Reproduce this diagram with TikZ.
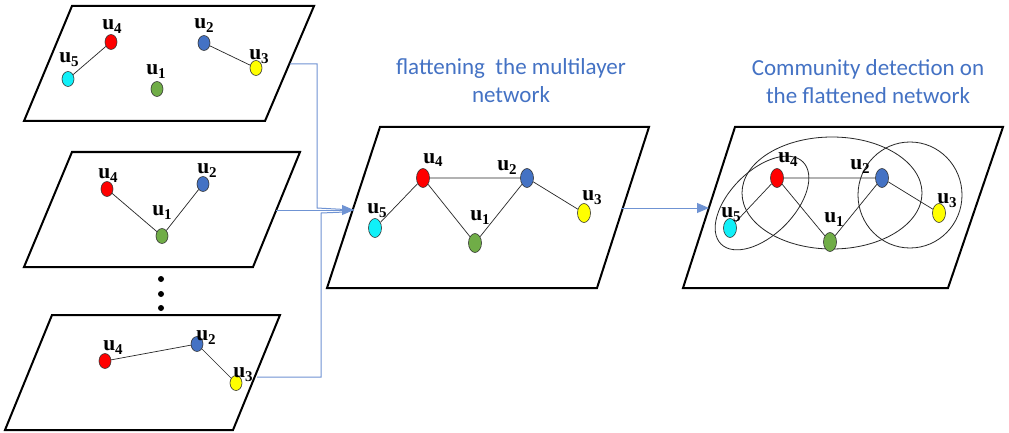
\documentclass[tikz,border=0pt]{standalone}
\usepackage{fontspec}
\setmainfont{Liberation Serif}
\newfontfamily\titlefont{Carlito}
\usetikzlibrary{shapes.geometric,arrows.meta,calc}
\definecolor{titleblue}{HTML}{4472C4}
\definecolor{connblue}{HTML}{6F93D3}
\definecolor{nred}{HTML}{FF0000}
\definecolor{ngreen}{HTML}{70AD47}
\definecolor{nblue}{HTML}{4472C4}
\definecolor{ncyan}{HTML}{10F0F8}
\definecolor{nyellow}{HTML}{FFFF00}
\newcommand\ulab[1]{\textbf{u}\raisebox{-4pt}{\fontsize{15}{15}\selectfont\textbf{#1}}}
\begin{document}
\begin{tikzpicture}[x=1pt,y=-1pt,
 plane/.style={draw=black,line width=2pt,fill=white,line join=miter},
 vtx/.style={ellipse,draw=black!80,line width=0.6pt,minimum width=12pt,minimum height=15pt,inner sep=0pt},
 bigvtx/.style={vtx,minimum width=13pt,minimum height=19pt},
 lab/.style={anchor=base,inner sep=0pt,font=\fontsize{21.5}{21.5}\selectfont},
 link/.style={draw=black!85,line width=0.7pt},
 conn/.style={draw=connblue,line width=1pt},
 arr/.style={-{Triangle[length=12pt,width=10pt]}},
 title/.style={align=center,text=titleblue,font=\titlefont\fontsize{23}{28}\selectfont},
 comm/.style={draw=black!85,line width=0.8pt},
 dot/.style={circle,fill=black,inner sep=0pt,minimum size=6pt}
]
\fill[white] (0,0) rectangle (1009,433);
\useasboundingbox (0,0) rectangle (1009,433);

% planes
\draw[plane] (72,6) -- (314,6) -- (265,121) -- (24,121) -- cycle;
\draw[plane] (72,152) -- (300,152) -- (253,267) -- (24,267) -- cycle;
\draw[plane] (52,315) -- (280,315) -- (233,430) -- (5,430) -- cycle;
\draw[plane] (380,127) -- (649,127) -- (597,288) -- (327,288) -- cycle;
\draw[plane] (735,127) -- (1003,127) -- (948,288) -- (683,288) -- cycle;

% titles
\node[title] (t1) at (511,81) {flattening\ \ the multilayer\\network};
\node[title] (t2) at (868,82) {Community detection on\\the flattened network};

% dots
\node[dot] (d1) at (161,279) {};
\node[dot] (d2) at (161,294) {};
\node[dot] (d3) at (161,308) {};

% ---- layer 1
\node[vtx,fill=nred] (a4) at (111,42) {};
\node[vtx,fill=ncyan] (a5) at (68,79) {};
\node[vtx,fill=ngreen] (a1) at (157,89) {};
\node[vtx,fill=nblue] (a2) at (204,43) {};
\node[vtx,fill=nyellow] (a3) at (256,68) {};
\draw[link] (a4) -- (a5);
\draw[link] (a2) -- (a3);
\node[lab] (la4) at (112,30) {\ulab{4}};
\node[lab] (la5) at (69,63) {\ulab{5}};
\node[lab] (la1) at (156,75) {\ulab{1}};
\node[lab] (la2) at (204,29) {\ulab{2}};
\node[lab] (la3) at (259,60) {\ulab{3}};

% ---- layer 2
\node[vtx,fill=nred] (b4) at (107,189) {};
\node[vtx,fill=nblue] (b2) at (203,184) {};
\node[vtx,fill=ngreen] (b1) at (162,236) {};
\draw[link] (b4) -- (b1) -- (b2);
\node[lab] (lb4) at (108,178) {\ulab{4}};
\node[lab] (lb2) at (207,173) {\ulab{2}};
\node[lab] (lb1) at (162,215) {\ulab{1}};

% ---- layer 3
\node[vtx,fill=nred] (c4) at (105,361) {};
\node[vtx,fill=nblue] (c2) at (197,344) {};
\node[vtx,fill=nyellow] (c3) at (236,383) {};
\draw[link] (c4) -- (c2) -- (c3);
\node[lab] (lc4) at (113,350) {\ulab{4}};
\node[lab] (lc2) at (206,340) {\ulab{2}};
\node[lab] (lc3) at (243,377) {\ulab{3}};

% ---- flattened network
\node[bigvtx,fill=nred] (m4) at (423,178) {};
\node[bigvtx,fill=nblue] (m2) at (527,178) {};
\node[bigvtx,fill=ncyan] (m5) at (375,228) {};
\node[bigvtx,fill=ngreen] (m1) at (475,243) {};
\node[bigvtx,fill=nyellow] (m3) at (584,213) {};
\draw[link] (m5) -- (m4) -- (m2) -- (m3);
\draw[link] (m4) -- (m1) -- (m2);
\node[lab] (lm4) at (433,163) {\ulab{4}};
\node[lab] (lm2) at (507,170) {\ulab{2}};
\node[lab] (lm5) at (377,213) {\ulab{5}};
\node[lab] (lm1) at (480,220) {\ulab{1}};
\node[lab] (lm3) at (592,200) {\ulab{3}};

% ---- communities
\coordinate (cL) at (762,203);
\coordinate (cM) at (832,193);
\coordinate (cR) at (910,195);
\draw[comm,rotate around={45:(cL)}] (cL) ellipse [x radius=58, y radius=32];
\draw[comm] (cM) ellipse [x radius=90, y radius=56];
\draw[comm] (cR) ellipse [x radius=52, y radius=53];
\node[bigvtx,fill=nred] (r4) at (777,178) {};
\node[bigvtx,fill=nblue] (r2) at (882,178) {};
\node[bigvtx,fill=ncyan] (r5) at (730,228) {};
\node[bigvtx,fill=ngreen] (r1) at (830,242) {};
\node[bigvtx,fill=nyellow] (r3) at (939,213) {};
\draw[link] (r5) -- (r4) -- (r2) -- (r3);
\draw[link] (r4) -- (r1) -- (r2);
\node[lab] (lr4) at (788,162) {\ulab{4}};
\node[lab] (lr2) at (860,169) {\ulab{2}};
\node[lab] (lr5) at (731,217) {\ulab{5}};
\node[lab] (lr1) at (834,222) {\ulab{1}};
\node[lab] (lr3) at (947,203) {\ulab{3}};

% ---- connectors
\coordinate (s1) at (290,64);
\coordinate (j1) at (317,208);
\coordinate (s2) at (276,210);
\coordinate (tip) at (354,210);
\coordinate (s3) at (257,377);
\coordinate (j3) at (321,213);
\coordinate (j3e) at (345,212);
\draw[conn] (s1) -| (j1) -- (tip);
\draw[conn] (s3) -| (j3) -- (j3e);
\draw[conn,arr,draw=connblue,fill=titleblue] (s2) -- (tip);
\coordinate (s4) at (621,208);
\coordinate (tip2) at (709,208);
\draw[conn,arr,fill=titleblue] (s4) -- (tip2);
\end{tikzpicture}
\end{document}
